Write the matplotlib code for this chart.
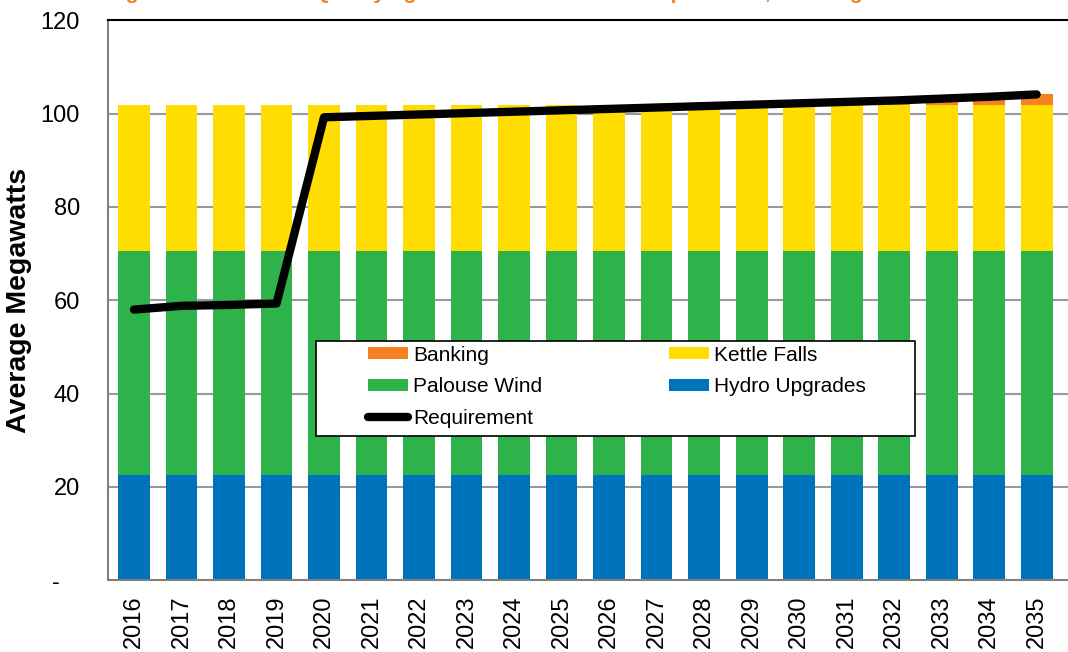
import matplotlib
matplotlib.use("Agg")
import matplotlib.pyplot as plt
from matplotlib.patches import Rectangle
import numpy as np

plt.rcParams['font.family'] = ['Liberation Sans', 'DejaVu Sans']

years = [str(y) for y in range(2016, 2036)]
hydro = [22.6] * 20
palouse = [47.9] * 20
kettle = [31.4] * 20
banking = [0, 0, 0, 0, 0, 0, 0, 0, 0, 0, 0, 0, 0, 0, 0, 0, 0.3, 0.9, 1.5, 2.3]
requirement = [58.0, 58.8, 59.0, 59.3, 99.2, 99.5, 99.8, 100.1, 100.4, 100.7,
               101.0, 101.3, 101.6, 101.9, 102.2, 102.5, 102.8, 103.2, 103.6, 104.1]

c_bank = '#F58220'
c_kettle = '#FFDD00'
c_wind = '#2DB34A'
c_hydro = '#0073BD'

fig = plt.figure(figsize=(10.68, 6.52), dpi=100)
ax = fig.add_axes([0.101, 0.110, 0.899, 0.859])

x = np.arange(len(years))
w = 0.67
b1 = ax.bar(x, hydro, w, color=c_hydro, label='Hydro Upgrades', zorder=2)
b2 = ax.bar(x, palouse, w, bottom=hydro, color=c_wind, label='Palouse Wind', zorder=2)
bot = np.array(hydro) + np.array(palouse)
b3 = ax.bar(x, kettle, w, bottom=bot, color=c_kettle, label='Kettle Falls', zorder=2)
bot = bot + np.array(kettle)
b4 = ax.bar(x, banking, w, bottom=bot, color=c_bank, label='Banking', zorder=2)
ln, = ax.plot(x, requirement, color='black', lw=6, solid_capstyle='round',
              solid_joinstyle='round', label='Requirement', zorder=3)

ax.set_xlim(-0.55, 19.66)
ax.set_ylim(0, 120)
ax.set_yticks(range(0, 121, 20))
ax.set_yticklabels(['-   '] + [str(v) for v in range(20, 121, 20)], fontsize=17)
ax.set_xticks(x)
ax.set_xticklabels(years, rotation=90, fontsize=17)
ax.tick_params(axis='x', length=0, pad=11)
ax.tick_params(axis='y', length=0, pad=20)
ax.set_ylabel('Average Megawatts', fontsize=20.5, fontweight='bold', labelpad=6)

for v in range(20, 101, 20):
    ax.axhline(v, color='#999999', lw=1.5, zorder=1)

ax.spines['right'].set_visible(False)
ax.spines['left'].set_color('#808080')
ax.spines['left'].set_linewidth(1.5)
ax.spines['bottom'].set_color('#808080')
ax.spines['bottom'].set_linewidth(1.5)
ax.spines['top'].set_color('black')
ax.spines['top'].set_linewidth(1.5)

# legend box drawn separately so it can be wider than its entries
ax.add_patch(Rectangle((0.2167, 0.2585), 0.6243, 0.1693, transform=ax.transAxes,
                       facecolor='white', edgecolor='black', lw=1.2, zorder=4))
leg = ax.legend([b4, b2, ln, b3, b1],
                ['Banking', 'Palouse Wind', 'Requirement', 'Kettle Falls', 'Hydro Upgrades'],
                ncol=2, loc='center left', bbox_to_anchor=(0.2708, 0.3458),
                fontsize=15, frameon=False,
                handlelength=1.92, handleheight=0.5, handletextpad=0.24,
                labelspacing=0.6, columnspacing=6.1, borderpad=0, borderaxespad=0)
leg.set_zorder(5)

# title sits mostly above the top edge, as in the source image
fig.text(0.496, 1 + 1 / 652, "Figure 10.4: Avista's Qualifying Renewables vs. I-937 Requirement, Washington State",
         ha='center', va='baseline', fontsize=15, fontweight='bold', color=c_bank)

fig.savefig('out.png', dpi=100)
